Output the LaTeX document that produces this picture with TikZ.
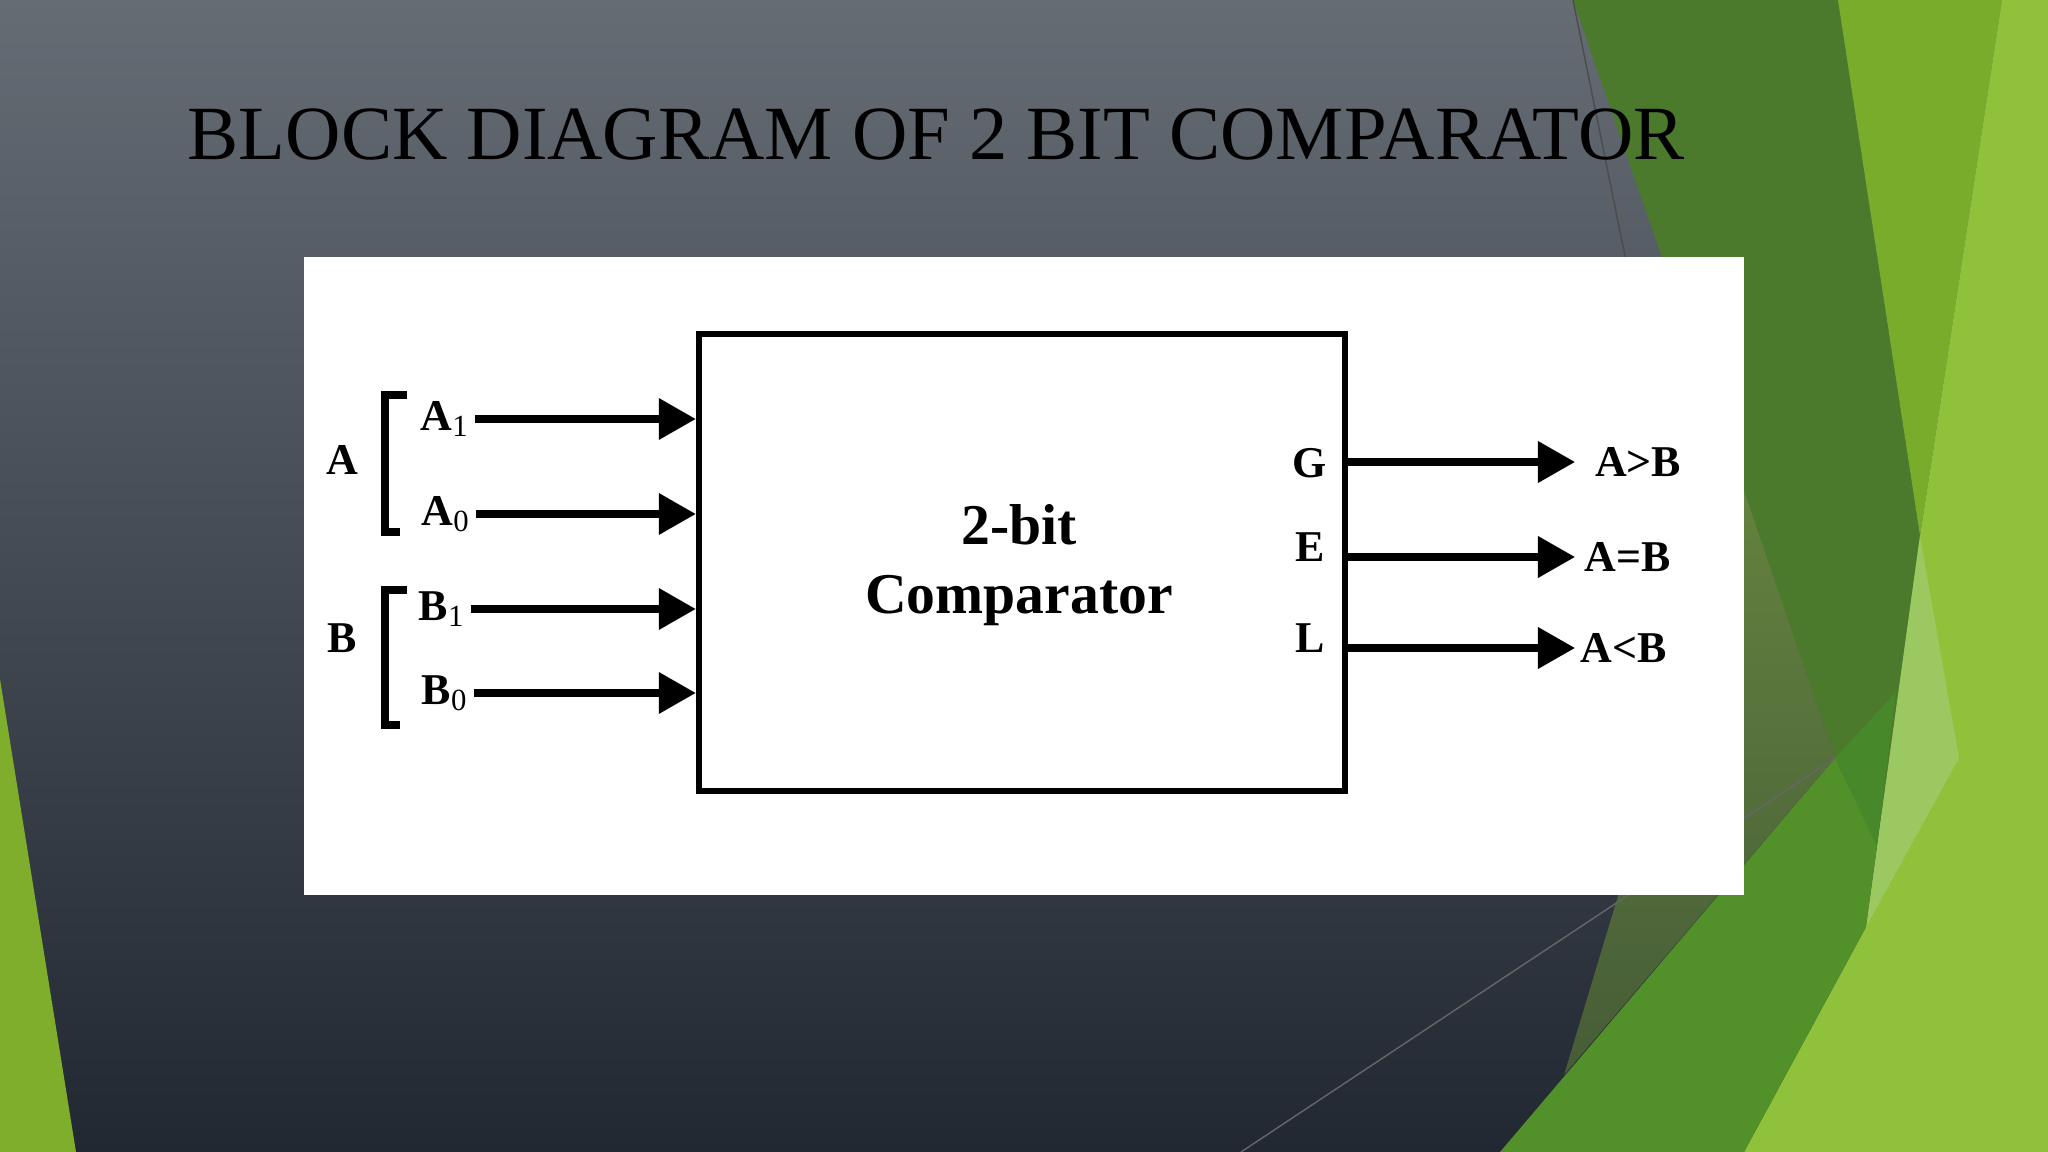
\documentclass[tikz,border=0pt]{standalone}
\usepackage{fontspec}
\setmainfont{Liberation Serif}
\usepackage{xcolor}
\usetikzlibrary{arrows.meta,positioning,calc}
\definecolor{slatetop}{HTML}{656C74}
\definecolor{slatebot}{HTML}{212831}
\definecolor{leafdark}{HTML}{4B7A2C}
\definecolor{leafmid}{HTML}{79AC2B}
\definecolor{leaflight}{HTML}{8FC23A}
\definecolor{leafpale}{HTML}{9CC862}
\definecolor{leafglint}{HTML}{47892A}
\definecolor{leafgrass}{HTML}{52902A}
\definecolor{olivetop}{HTML}{64823F}
\definecolor{olivebot}{HTML}{465C37}
\definecolor{leafsliver}{HTML}{7EAE2C}

\begin{document}
\begin{tikzpicture}[x=0.01cm, y=-0.01cm,
    pinlbl/.style={font=\fontsize{12.5}{15}\selectfont\bfseries, inner sep=1.5pt},
    sig/.style={line width=2pt, -{Triangle[length=0.37cm, width=0.4cm]}},
    brkt/.style={line width=2pt}]
    \useasboundingbox (0,0) rectangle (2048,1152);

    % Slide background
    \shade[top color=slatetop, bottom color=slatebot] (0,0) rectangle (2048,1152);
    \fill[leafdark] (1573,0) -- (1838,0) -- (1920,536) -- (1877,846) -- (1835,758) -- cycle;
    \fill[leafmid] (1838,0) -- (2002,0) -- (1920,536) -- cycle;
    \fill[leaflight] (2002,0) -- (2048,0) -- (2048,1152) -- (1744,1152) -- (1866,927) -- (1920,536) -- cycle;
    \fill[leafpale] (1920,536) -- (1959,758) -- (1866,927) -- cycle;
    \fill[leafglint] (1835,758) -- (1896,692) -- (1877,846) -- cycle;
    \fill[leafgrass] (1835,758) -- (1877,846) -- (1866,927) -- (1744,1152) -- (1500,1152) -- cycle;
    \shade[top color=olivetop, bottom color=olivebot] (1742,485) -- (1835,758) -- (1564,1075) -- cycle;
    \fill[leafsliver] (0,679) -- (76,1152) -- (0,1152) -- cycle;
    \draw[black!70, line width=0.4pt] (1573,0) -- (1640,330);
    \draw[black!60, line width=0.4pt] (1241,1152) -- (1835,758);

    % Title
    \node[anchor=base west, inner sep=0, font=\fontsize{21.8}{26}\selectfont] (title) at (187,160) {BLOCK DIAGRAM OF 2 BIT COMPARATOR};

    % Picture panel and comparator block
    \node[fill=white, minimum width=14.4cm, minimum height=6.38cm, inner sep=0] (panel) at (1024,576) {};
    \node[draw, line width=1.7pt, minimum width=6.46cm, minimum height=4.57cm, inner sep=0] (cmp) at (1022,562.5) {};
    \node[font=\fontsize{16.4}{19.6}\selectfont\bfseries, align=center] (cmptxt) at (1019,565) {2-bit\\Comparator};

    % Inputs
    \node[pinlbl] (grpA) at (342,460) {A};
    \node[pinlbl] (grpB) at (342,638) {B};
    \draw[brkt] (407,395) -- (385,395) -- (385,532) -- (400,532);
    \draw[brkt] (407,590) -- (385,590) -- (385,725) -- (400,725);
    \node[pinlbl] (a1) at (445,419) {A\textsubscript{\mdseries 1}};
    \node[pinlbl] (a0) at (446,514) {A\textsubscript{\mdseries 0}};
    \node[pinlbl] (b1) at (442,609) {B\textsubscript{\mdseries 1}};
    \node[pinlbl] (b0) at (445,693) {B\textsubscript{\mdseries 0}};
    \foreach \p in {a1,a0,b1,b0}
        \draw[sig] (\p.east) -- (\p.east -| cmp.west);

    % Outputs
    \node[pinlbl] (pinG) at (1310,463) {G};
    \node[pinlbl] (pinE) at (1310,547) {E};
    \node[pinlbl] (pinL) at (1310,638) {L};
    \coordinate (gtTip) at (1575,462);
    \coordinate (eqTip) at (1575,557);
    \coordinate (ltTip) at (1575,648);
    \node[pinlbl, right=4pt of gtTip] (gt) {A>B};
    \node[pinlbl, right=1pt of eqTip] (eq) {A=B};
    \node[pinlbl, right=0pt of ltTip] (lt) {A<B};
    \draw[sig] (cmp.east |- gtTip) -- (gtTip);
    \draw[sig] (cmp.east |- eqTip) -- (eqTip);
    \draw[sig] (cmp.east |- ltTip) -- (ltTip);
\end{tikzpicture}
\end{document}
